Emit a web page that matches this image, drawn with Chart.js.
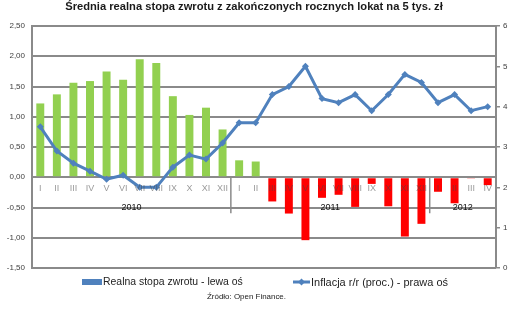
<!DOCTYPE html>
<html>
<head>
<meta charset="utf-8">
<script src="https://cdn.jsdelivr.net/npm/chart.js@4/dist/chart.umd.min.js"></script>
<style>
  html, body { margin: 0; padding: 0; background: #fff; }
  #c { display: block; }
</style>
</head>
<body>
<canvas id="c" width="511" height="312"></canvas>
<script>
// ---- data ----
const titleText = 'Średnia realna stopa zwrotu z zakończonych rocznych lokat na 5 tys. zł';
const sourceText = 'Źródło: Open Finance.';
const months = ['I','II','III','IV','V','VI','VII','VIII','IX','X','XI','XII',
                'I','II','III','IV','V','VI','VII','VIII','IX','X','XI','XII',
                'I','II','III','IV'];
const years = ['2010', '2011', '2012'];
const monthsPerYear = [12, 12, 4];
const realRate = [1.22, 1.37, 1.56, 1.59, 1.75, 1.61, 1.95, 1.89, 1.34, 1.03, 1.15, 0.79,
                  0.28, 0.26, -0.40, -0.60, -1.04, -0.34, -0.29, -0.49, -0.11, -0.48, -0.98, -0.77,
                  -0.24, -0.43, -0.02, -0.13];
const inflation = [3.5, 2.9, 2.6, 2.4, 2.2, 2.3, 2.0, 2.0, 2.5, 2.8, 2.7, 3.1,
                   3.6, 3.6, 4.3, 4.5, 5.0, 4.2, 4.1, 4.3, 3.9, 4.3, 4.8, 4.6,
                   4.1, 4.3, 3.9, 4.0];
const seriesNames = ['Realna stopa zwrotu - lewa oś', 'Inflacja r/r (proc.) - prawa oś'];

const GRID = '#8a8a8a';
const BLUE = '#4F81BD';
const FONT = '"Liberation Sans", Arial, sans-serif';

// set a font whose rendered width matches the target width
function fitFont(ctx, text, weight, base, target) {
  ctx.font = weight + base + 'px ' + FONT;
  const w = ctx.measureText(text).width;
  const size = base * target / w;
  ctx.font = weight + size.toFixed(2) + 'px ' + FONT;
}

const overlay = {
  id: 'overlay',
  afterDraw(chart) {
    const ctx = chart.ctx;
    const x = chart.scales.x, y = chart.scales.y;
    const zeroY = y.getPixelForValue(0);
    ctx.save();
    // title
    ctx.fillStyle = '#1a1a1a';
    fitFont(ctx, titleText, 'bold ', 10.5, 378);
    ctx.textAlign = 'center';
    ctx.textBaseline = 'middle';
    ctx.fillText(titleText, 254, 6.5);

    // month labels
    ctx.font = '9px ' + FONT;
    ctx.fillStyle = 'rgba(70,70,70,0.55)';
    months.forEach((m, i) => {
      ctx.fillText(m, x.getPixelForValue(i), zeroY + 11);
    });
    // year labels and separators
    let start = 0;
    ctx.fillStyle = '#111';
    ctx.strokeStyle = GRID;
    ctx.lineWidth = 1.5;
    years.forEach((yr, k) => {
      const n = monthsPerYear[k];
      const cx = (x.getPixelForValue(start) + x.getPixelForValue(start + n - 1)) / 2;
      ctx.fillText(yr, cx, zeroY + 30);
      if (k > 0) {
        const sx = (x.getPixelForValue(start - 1) + x.getPixelForValue(start)) / 2;
        ctx.beginPath();
        ctx.moveTo(sx, zeroY);
        ctx.lineTo(sx, zeroY + 36);
        ctx.stroke();
      }
      start += n;
    });

    // legend
    ctx.textAlign = 'left';
    ctx.fillStyle = BLUE;
    ctx.fillRect(82, 279, 20, 6);
    ctx.fillStyle = '#222';
    fitFont(ctx, seriesNames[0], '', 10, 140);
    ctx.fillText(seriesNames[0], 103, 282.5);
    ctx.strokeStyle = BLUE;
    ctx.lineWidth = 3;
    ctx.beginPath();
    ctx.moveTo(293, 282);
    ctx.lineTo(310, 282);
    ctx.stroke();
    ctx.fillStyle = BLUE;
    ctx.beginPath();
    ctx.moveTo(301.5, 278.5);
    ctx.lineTo(305, 282);
    ctx.lineTo(301.5, 285.5);
    ctx.lineTo(298, 282);
    ctx.closePath();
    ctx.fill();
    ctx.fillStyle = '#222';
    fitFont(ctx, seriesNames[1], '', 10, 137);
    ctx.fillText(seriesNames[1], 311, 282.5);

    // source
    fitFont(ctx, sourceText, '', 8, 79);
    ctx.fillText(sourceText, 207, 297);
    ctx.restore();
  }
};

new Chart(document.getElementById('c'), {
  type: 'bar',
  data: {
    labels: months,
    datasets: [
      {
        type: 'line',
        label: seriesNames[1],
        data: inflation,
        yAxisID: 'y1',
        borderColor: BLUE,
        backgroundColor: BLUE,
        borderWidth: 3,
        pointStyle: 'rectRot',
        pointRadius: 3.5,
        pointBackgroundColor: BLUE,
        pointBorderColor: BLUE,
        pointBorderWidth: 0,
        tension: 0,
        order: 0
      },
      {
        type: 'bar',
        label: seriesNames[0],
        data: realRate,
        yAxisID: 'y',
        backgroundColor: c => (c.raw >= 0 ? '#92D050' : '#FF0000'),
        borderWidth: 0,
        barPercentage: 0.96,
        categoryPercentage: 0.5,
        order: 1
      }
    ]
  },
  options: {
    responsive: false,
    animation: false,
    devicePixelRatio: 1,
    layout: { padding: { top: 26, bottom: 44, left: 0, right: 0 } },
    plugins: {
      legend: { display: false },
      title: { display: false },
      tooltip: { enabled: false }
    },
    scales: {
      x: { display: false },
      y: {
        position: 'left',
        min: -1.5,
        max: 2.5,
        ticks: {
          stepSize: 0.5,
          callback: v => v.toFixed(2).replace('.', ','),
          font: { size: 8, family: FONT },
          color: '#404040',
          padding: 7
        },
        grid: { color: GRID, lineWidth: 2, drawTicks: false },
        border: { color: GRID, width: 2 },
        afterFit: s => { s.width = 32; }
      },
      y1: {
        position: 'right',
        min: 0,
        max: 6,
        ticks: {
          stepSize: 1,
          font: { size: 8, family: FONT },
          color: '#404040',
          padding: 3
        },
        grid: { drawOnChartArea: false, drawTicks: true, tickLength: 4, color: GRID, lineWidth: 1.5 },
        border: { color: GRID, width: 2 },
        afterFit: s => { s.width = 15; }
      }
    }
  },
  plugins: [overlay]
});
</script>
</body>
</html>
